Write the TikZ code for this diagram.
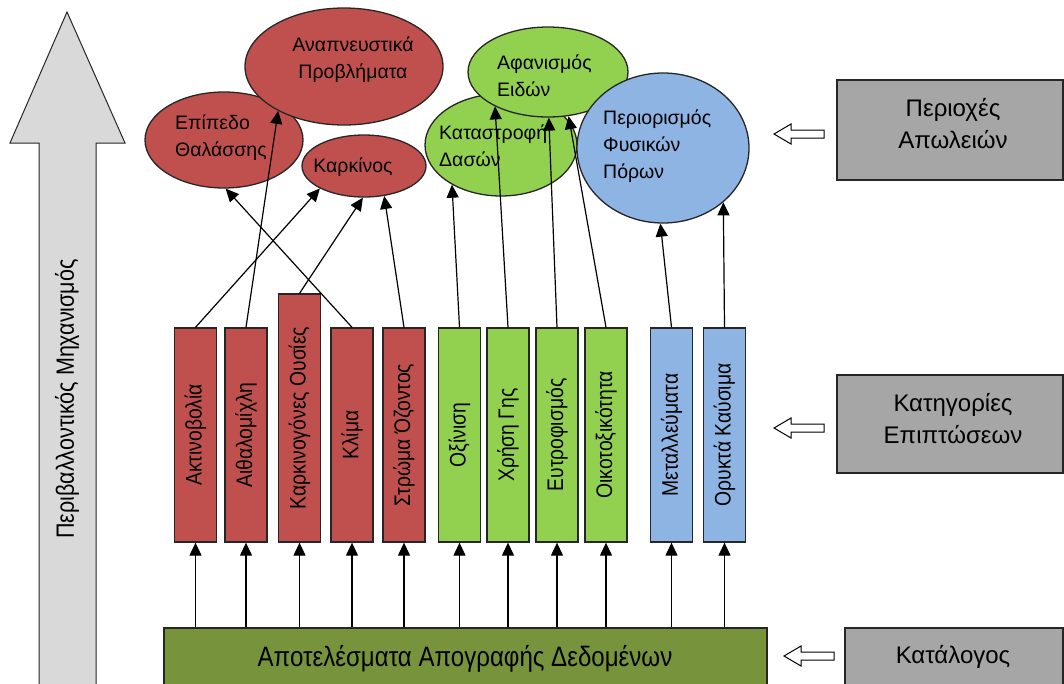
\documentclass[tikz,border=0pt]{standalone}
\usepackage{fontspec}
\setmainfont{Liberation Sans}
\newfontfamily\condfont{Liberation Sans}[FakeStretch=0.86]
\usetikzlibrary{arrows.meta,shapes.geometric}
\definecolor{impred}{HTML}{C0504D}
\definecolor{impgreen}{HTML}{92D050}
\definecolor{impblue}{HTML}{8DB4E2}
\definecolor{baseolive}{HTML}{77933C}
\definecolor{catgray}{HTML}{A6A6A6}
\definecolor{mechgray}{HTML}{D9D9D9}
\begin{document}
\begin{tikzpicture}[x=1pt,y=-1pt,
  outline/.style={draw=black!85, line width=1.3pt},
  bar/.style={outline, minimum width=42pt, minimum height=214pt, inner sep=0pt,
    font=\condfont\fontsize{22.5}{26}\selectfont},
  tallbar/.style={bar, minimum height=248pt},
  ell/.style={ellipse, outline, inner sep=0pt},
  etext/.style={font=\fontsize{19.5}{27}\selectfont, inner sep=0pt},
  cattext/.style={font=\fontsize{24}{32}\selectfont, align=center, inner sep=0pt},
  conn/.style={line width=1.2pt, -{Triangle[width=12pt,length=13pt]}},
  hollow/.style={draw=black, line width=1pt, fill=white},
  catbox/.style={outline, fill=catgray, inner sep=0pt}
]
\useasboundingbox (0,0) rectangle (1064,683);

% big upward arrow on the left
\draw[outline, line width=1pt, fill=mechgray] (67,12) -- (125,143) -- (96,143) -- (96,700)
  -- (39,700) -- (39,143) -- (10,143) -- cycle;
\node[rotate=90, font=\condfont\fontsize{25}{30}\selectfont] (mechT) at (67,399) {Περιβαλλοντικός Μηχανισμός};

% category boxes on the right
\node[catbox, minimum width=226pt, minimum height=100pt] (lossbox) at (950,130) {};
\node[cattext] (lossT) at (953,124) {Περιοχές\\Απωλειών};
\node[catbox, minimum width=226pt, minimum height=98pt] (impbox) at (950,424) {};
\node[cattext] (impT) at (953,419) {Κατηγορίες\\Επιπτώσεων};
\node[catbox, minimum width=218pt, minimum height=72pt] (catbox3) at (954,664) {};
\node[cattext] (catT) at (953,657) {Κατάλογος};

% hollow pointers
\coordinate (p1) at (774,134);
\coordinate (p2) at (774,428);
\coordinate (p3) at (784,656);
\foreach \p in {p1,p2,p3}
  \draw[hollow] (\p) -- ++(17,-10) -- ++(0,6) -- ++(33,0) -- ++(0,8) -- ++(-33,0) -- ++(0,6) -- cycle;

% data inventory bar
\node[outline, fill=baseolive, minimum width=603pt, minimum height=72pt] (base) at (465.5,664) {};
\node[font=\condfont\fontsize{28}{32}\selectfont] (baseT) at (465,659) {Αποτελέσματα Απογραφής Δεδομένων};

% impact category bars
\node[bar, fill=impred] (b1) at (195.5,435) {\rotatebox{90}{Ακτινοβολία}};
\node[bar, fill=impred] (b2) at (246,435) {\rotatebox{90}{Αιθαλομίχλη}};
\node[tallbar, fill=impred] (b3) at (299.5,418) {\rotatebox{90}{Καρκινογόνες Ουσίες}};
\node[bar, fill=impred] (b4) at (352,435) {\rotatebox{90}{Κλίμα}};
\node[bar, fill=impred] (b5) at (404,435) {\rotatebox{90}{Στρώμα Όζοντος}};
\node[bar, fill=impgreen] (b6) at (459.5,435) {\rotatebox{90}{Οξίνιση}};
\node[bar, fill=impgreen] (b7) at (508,435) {\rotatebox{90}{Χρήση Γης}};
\node[bar, fill=impgreen] (b8) at (557,435) {\rotatebox{90}{Ευτροφισμός}};
\node[bar, fill=impgreen] (b9) at (606,435) {\rotatebox{90}{Οικοτοξικότητα}};
\node[bar, fill=impblue] (b10) at (671.5,435) {\rotatebox{90}{Μεταλλεύματα}};
\node[bar, fill=impblue] (b11) at (724.5,435) {\rotatebox{90}{Ορυκτά Καύσιμα}};

\foreach \b in {b1,b2,b3,b4,b5,b6,b7,b8,b9,b10,b11}
  \draw[conn] (base.north -| \b.south) -- (\b.south);

% damage areas
\node[ell, fill=impred, minimum width=158pt, minimum height=96pt] (sea) at (224,140) {};
\node[ell, fill=impred, minimum width=124pt, minimum height=62pt] (cancer) at (364,166) {};
\node[ell, fill=impred, minimum width=198pt, minimum height=117pt] (resp) at (344,66.5) {};
\node[ell, fill=impgreen, minimum width=152pt, minimum height=102pt] (forest) at (501,145) {};
\node[ell, fill=impgreen, minimum width=160pt, minimum height=90pt] (species) at (548,72) {};
\node[ell, fill=impblue, minimum width=172pt, minimum height=150pt] (res) at (663,148) {};

\node[etext, align=left, anchor=west] (seaT) at (175,138) {Επίπεδο\\Θαλάσσης};
\node[etext, align=center] (respT) at (353,60) {Αναπνευστικά\\Προβλήματα};
\node[etext] (cancerT) at (353,167) {Καρκίνος};
\node[etext, align=left, anchor=west] (forestT) at (439,146) {Καταστροφή\\Δασών};
\node[etext, align=left, anchor=west] (speciesT) at (497,76) {Αφανισμός\\Ειδών};
\node[etext, align=left, anchor=west] (resT) at (603,146) {Περιορισμός\\Φυσικών\\Πόρων};

% links from categories to damage areas
\draw[conn] (b1.north) -- (cancer.207);
\draw[conn] (b2.north) -- (resp.214);
\draw[conn] (b3.north) -- (cancer.268);
\draw[conn] (b4.north) -- (sea.272);
\draw[conn] (b5.north) -- (cancer.304);
\draw[conn] (b6.north) -- (forest.219);
\draw[conn] (b7.north) -- (species.213);
\draw[conn] (b8.north) -- (species.271);
\draw[conn] (b9.north) -- (species.295);
\draw[conn] (b10.north) -- (res.268);
\draw[conn] (b11.north) -- (res.318);
\end{tikzpicture}
\end{document}
